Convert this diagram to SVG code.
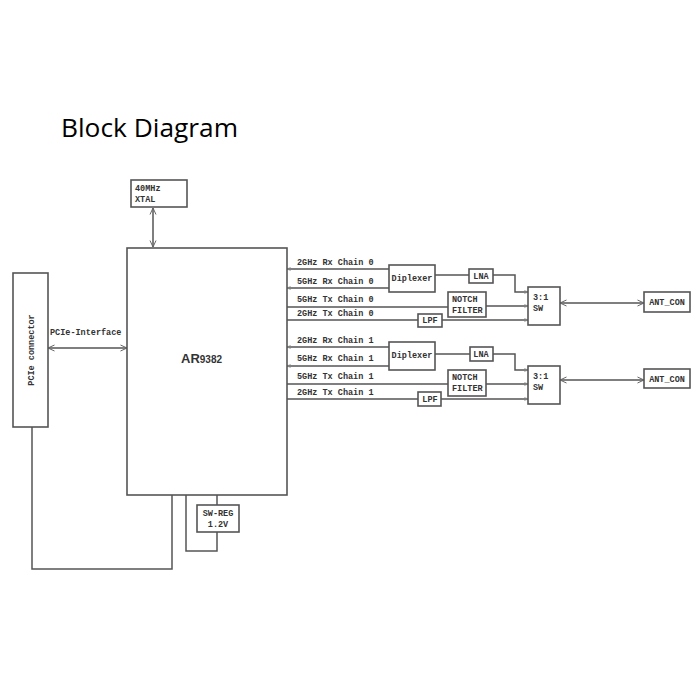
<svg xmlns="http://www.w3.org/2000/svg" width="700" height="700" viewBox="0 0 700 700">
<defs>
<style>
.box{fill:#fff;stroke:#555;stroke-width:1.6}
.ln{fill:none;stroke:#555;stroke-width:1.5}
.t{font-family:"Liberation Mono",monospace;font-weight:bold;font-size:8.5px;fill:#333}
.title{font-family:"Open Sans","Liberation Sans",Arial,sans-serif;font-size:26px;fill:#000}
</style>
<marker id="ar" viewBox="0 0 8 8" refX="7.5" refY="4" markerWidth="8" markerHeight="8" orient="auto-start-reverse" markerUnits="userSpaceOnUse">
<path d="M1,1 L7.5,4 L1,7" fill="none" stroke="#666" stroke-width="1"/>
</marker>
<marker id="tk" viewBox="0 0 6 6" refX="5.5" refY="3" markerWidth="5" markerHeight="5" orient="auto-start-reverse" markerUnits="userSpaceOnUse">
<path d="M1,1 L5.5,3 L1,5" fill="none" stroke="#888" stroke-width="0.8"/>
</marker>
</defs>
<rect width="700" height="700" fill="#fff"/>
<text class="title" x="61" y="137" textLength="177" lengthAdjust="spacingAndGlyphs">Block Diagram</text>

<g id="connectors">
<line class="ln" x1="153" y1="208" x2="153" y2="247" marker-start="url(#ar)" marker-end="url(#ar)"/>
<line class="ln" x1="48" y1="348" x2="127" y2="348" marker-start="url(#ar)" marker-end="url(#ar)"/>
<polyline class="ln" points="32,427 32,569 172,569 172,495"/>
<line class="ln" x1="217" y1="495" x2="217" y2="505"/>
<polyline class="ln" points="186,495 186,551 217,551 217,532"/>
<!-- chain 0 -->
<line class="ln" x1="287" y1="269" x2="390" y2="269" marker-start="url(#tk)"/>
<line class="ln" x1="287" y1="288" x2="390" y2="288" marker-start="url(#tk)"/>
<line class="ln" x1="287" y1="307" x2="448" y2="307"/>
<line class="ln" x1="287" y1="320" x2="418" y2="320"/>
<line class="ln" x1="435" y1="275" x2="469" y2="275"/>
<polyline class="ln" points="493,275 515,275 515,292 528,292" marker-end="url(#tk)"/>
<line class="ln" x1="486" y1="306" x2="528" y2="306" marker-end="url(#tk)"/>
<line class="ln" x1="442" y1="320" x2="528" y2="320" marker-end="url(#tk)"/>
<line class="ln" x1="560" y1="303" x2="644" y2="303" marker-start="url(#ar)" marker-end="url(#ar)"/>
<!-- chain 1 -->
<line class="ln" x1="287" y1="347" x2="390" y2="347" marker-start="url(#tk)"/>
<line class="ln" x1="287" y1="366" x2="390" y2="366" marker-start="url(#tk)"/>
<line class="ln" x1="287" y1="384" x2="448" y2="384"/>
<line class="ln" x1="287" y1="399" x2="418" y2="399"/>
<line class="ln" x1="435" y1="354" x2="470" y2="354"/>
<polyline class="ln" points="493,354 515,354 515,370 528,370" marker-end="url(#tk)"/>
<line class="ln" x1="486" y1="384" x2="528" y2="384" marker-end="url(#tk)"/>
<line class="ln" x1="441" y1="399" x2="528" y2="399" marker-end="url(#tk)"/>
<line class="ln" x1="560" y1="380" x2="644" y2="380" marker-start="url(#ar)" marker-end="url(#ar)"/>
</g>

<g id="xtal"><rect class="box" x="131" y="180" width="56" height="27"/>
<text class="t" x="135" y="191">40MHz</text><text class="t" x="135" y="202">XTAL</text></g>

<g id="ar9382"><rect class="box" x="127" y="248" width="160" height="247"/>
<text x="181" y="363" font-family="Liberation Sans,Arial,sans-serif" font-weight="bold" fill="#333"><tspan font-size="13">AR</tspan><tspan font-size="10">9382</tspan></text></g>

<g id="pcie"><rect class="box" x="13" y="273" width="35" height="154"/>
<text class="t" transform="translate(34,350) rotate(-90)" text-anchor="middle">PCIe connector</text></g>
<text class="t" x="50" y="335">PCIe-Interface</text>

<g id="swreg"><rect class="box" x="197" y="505" width="42" height="27"/>
<text class="t" x="218" y="516" text-anchor="middle">SW-REG</text><text class="t" x="218" y="527" text-anchor="middle">1.2V</text></g>

<g id="labels0">
<text class="t" x="297" y="265">2GHz Rx Chain 0</text>
<text class="t" x="297" y="284">5GHz Rx Chain 0</text>
<text class="t" x="297" y="302">5GHz Tx Chain 0</text>
<text class="t" x="297" y="316">2GHz Tx Chain 0</text>
</g>
<g id="diplexer0"><rect class="box" x="389" y="265" width="46" height="27"/><text class="t" x="412" y="281" text-anchor="middle">Diplexer</text></g>
<g id="lna0"><rect class="box" x="469" y="269" width="24" height="14"/><text class="t" x="481" y="279" text-anchor="middle">LNA</text></g>
<g id="notch0"><rect class="box" x="448" y="292" width="38" height="25"/><text class="t" x="452" y="302">NOTCH</text><text class="t" x="452" y="313">FILTER</text></g>
<g id="lpf0"><rect class="box" x="418" y="314" width="24" height="13"/><text class="t" x="430" y="323" text-anchor="middle">LPF</text></g>
<g id="sw0"><rect class="box" x="528" y="287" width="32" height="38"/><text class="t" x="533" y="300">3:1</text><text class="t" x="533" y="311">SW</text></g>
<g id="ant0"><rect class="box" x="644" y="292" width="46" height="20"/><text class="t" x="667" y="305" text-anchor="middle">ANT_CON</text></g>

<g id="labels1">
<text class="t" x="297" y="343">2GHz Rx Chain 1</text>
<text class="t" x="297" y="361">5GHz Rx Chain 1</text>
<text class="t" x="297" y="379">5GHz Tx Chain 1</text>
<text class="t" x="297" y="395">2GHz Tx Chain 1</text>
</g>
<g id="diplexer1"><rect class="box" x="389" y="342" width="46" height="28"/><text class="t" x="412" y="358" text-anchor="middle">Diplexer</text></g>
<g id="lna1"><rect class="box" x="470" y="347" width="23" height="14"/><text class="t" x="481" y="357" text-anchor="middle">LNA</text></g>
<g id="notch1"><rect class="box" x="448" y="370" width="38" height="26"/><text class="t" x="452" y="380">NOTCH</text><text class="t" x="452" y="391">FILTER</text></g>
<g id="lpf1"><rect class="box" x="418" y="392" width="23" height="14"/><text class="t" x="430" y="402" text-anchor="middle">LPF</text></g>
<g id="sw1"><rect class="box" x="528" y="366" width="32" height="38"/><text class="t" x="533" y="379">3:1</text><text class="t" x="533" y="390">SW</text></g>
<g id="ant1"><rect class="box" x="644" y="369" width="46" height="19"/><text class="t" x="667" y="382" text-anchor="middle">ANT_CON</text></g>
</svg>
